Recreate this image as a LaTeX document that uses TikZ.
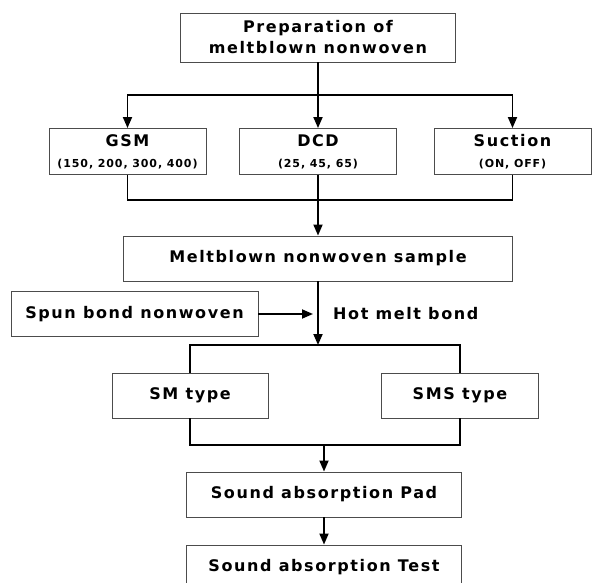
\documentclass[tikz,border=0pt]{standalone}
\usepackage{fontspec}
\newfontfamily\boxfont{DejaVu Sans Bold}[LetterSpace=10]
\newfontfamily\subfont{DejaVu Sans Bold}[LetterSpace=8]
\usetikzlibrary{arrows.meta}

\begin{document}
\begin{tikzpicture}[x=1pt,y=-1pt,
box/.style={draw=black!70,line width=0.9pt,inner sep=0pt,align=center,
  font=\boxfont\fontsize{16}{21}\selectfont},
wide/.style={box,minimum width=275pt,minimum height=45pt},
small/.style={box,minimum width=157pt,minimum height=46pt},
txt/.style={inner sep=0pt,font=\boxfont\fontsize{16}{20}\selectfont},
conn/.style={line width=1.8pt},
arr/.style={conn,-{Triangle[length=11pt,width=9pt]}}
]
\useasboundingbox (0,0) rectangle (592,583);

% The boxes
\node[wide,minimum height=49pt] (prep) at (318,37.5) {Preparation of\\meltblown nonwoven};
\node[small] (gsm) at (127.5,151.5) {GSM\\{\subfont\fontsize{11}{13}\selectfont (150, 200, 300, 400)}};
\node[small] (dcd) at (318,151.5) {DCD\\{\subfont\fontsize{11}{13}\selectfont (25, 45, 65)}};
\node[small] (suc) at (512.5,151.5) {Suction\\{\subfont\fontsize{11}{13}\selectfont (ON, OFF)}};
\node[box,minimum width=389pt,minimum height=45pt] (sample) at (318,258.5) {Meltblown nonwoven sample};
\node[box,minimum width=247pt,minimum height=45pt] (spun) at (134.5,314) {Spun bond nonwoven};
\node[txt,anchor=west] (hot) at (333,314) {Hot melt bond};
\node[box,minimum width=156pt,minimum height=45pt] (sm) at (190,395.5) {SM type};
\node[box,minimum width=157pt,minimum height=45pt] (sms) at (460,395.5) {SMS type};
\node[wide] (pad) at (324,494.5) {Sound absorption Pad};
\node[wide] (test) at (324,567.5) {Sound absorption Test};

% The connectors
\coordinate (split) at (318,95);
\coordinate (merge) at (318,200);
\coordinate (bond) at (318,345);
\coordinate (feed) at (313,314);
\coordinate (join) at (324,445);

\draw[arr] (prep.south) -- (split) -| (gsm.north);
\draw[arr] (split) -| (suc.north);
\draw[arr] (split) -- (dcd.north);

\draw[conn] (gsm.south) |- (merge);
\draw[conn] (suc.south) |- (merge);
\draw[arr] (dcd.south) -- (merge) -- (sample.north);

\draw[arr] (sample.south) -- (bond);
\draw[arr] (spun.east) -- (feed);
\draw[conn] (sm.north) |- (sms.north |- bond) -- (sms.north);

\draw[conn] (sm.south) |- (sms.south |- join) -- (sms.south);
\draw[arr] (join) -- (pad.north);
\draw[arr] (pad.south) -- (test.north);
\end{tikzpicture}
\end{document}
